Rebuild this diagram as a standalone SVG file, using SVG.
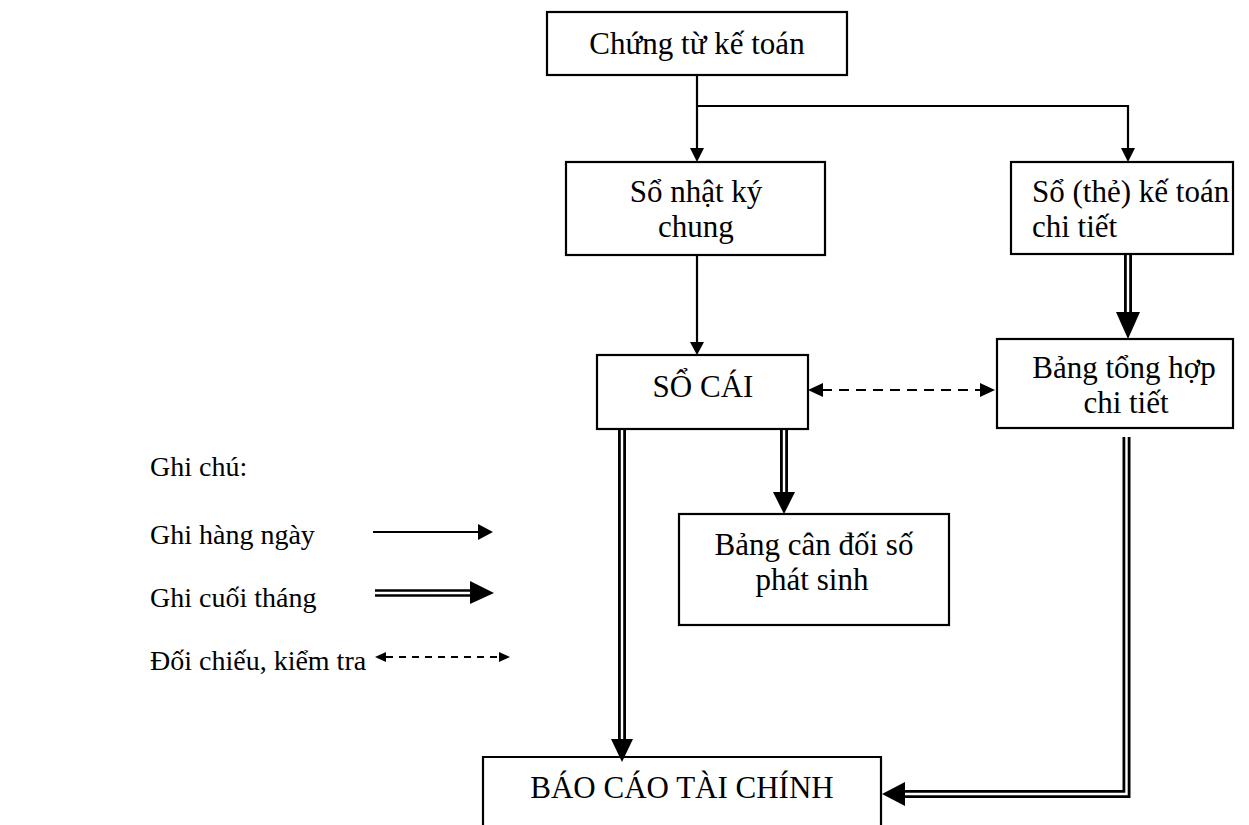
<svg xmlns="http://www.w3.org/2000/svg" width="1249" height="825" viewBox="0 0 1249 825">
<style>
.box{fill:#fff;stroke:#000;stroke-width:2.2}
.t{font-family:"Liberation Serif","Times New Roman",serif;font-size:31px;fill:#000}
.lg{font-size:28px}
.c{text-anchor:middle}
.ln{fill:none;stroke:#000;stroke-width:2.2}
.dbl{fill:none;stroke:#000;stroke-width:8}
.dblw{fill:none;stroke:#fff;stroke-width:2.4}
.dash{fill:none;stroke:#000;stroke-width:2.2;stroke-dasharray:10 7}
.hd{fill:#000}
</style>
<rect width="1249" height="825" fill="#fff"/>
<g id="connectors">
  <path class="ln" d="M697,75 V149"/>
  <polygon class="hd" points="690,148 704,148 697,162"/>
  <path class="ln" d="M696,106 H1128 V149"/>
  <polygon class="hd" points="1121,148 1135,148 1128,162"/>
  <path class="ln" d="M697,255 V343"/>
  <polygon class="hd" points="690,342 704,342 697,355"/>
  <path class="dash" d="M822,390 H982"/>
  <polygon class="hd" points="808,390 823,383 823,397"/>
  <polygon class="hd" points="995,390 980,383 980,397"/>
  <path class="dbl" d="M1128,254 V313"/>
  <path class="dblw" d="M1128,254 V313"/>
  <polygon class="hd" points="1116,312 1140,312 1128,339"/>
  <path class="dbl" d="M784,430 V493"/>
  <path class="dblw" d="M784,430 V493"/>
  <polygon class="hd" points="773,492 795,492 784,514"/>
  <path class="dbl" d="M622,430 V740"/>
  <path class="dblw" d="M622,430 V740"/>
  <polygon class="hd" points="611,739 633,739 622,762"/>
  <path class="dbl" d="M1126.5,437 V794 H904"/>
  <path class="dblw" d="M1126.5,437 V794 H904"/>
  <polygon class="hd" points="905,782 905,806 882,794"/>
</g>
<g id="node-chung-tu">
  <rect class="box" x="547" y="12" width="300" height="63"/>
  <text class="t c" x="697" y="54">Chứng từ kế toán</text>
</g>
<g id="node-nhat-ky">
  <rect class="box" x="566" y="162" width="259" height="93"/>
  <text class="t c" x="696" y="202">Sổ nhật ký</text>
  <text class="t c" x="696" y="237">chung</text>
</g>
<g id="node-chi-tiet">
  <rect class="box" x="1011" y="162" width="222" height="92"/>
  <text class="t" x="1032" y="202">Sổ (thẻ) kế toán</text>
  <text class="t" x="1032" y="237">chi tiết</text>
</g>
<g id="node-so-cai">
  <rect class="box" x="597" y="355" width="211" height="74"/>
  <text class="t c" x="703" y="397">SỔ CÁI</text>
</g>
<g id="node-tong-hop">
  <rect class="box" x="997" y="339" width="236" height="89"/>
  <text class="t c" x="1124" y="378">Bảng tổng hợp</text>
  <text class="t c" x="1126" y="413">chi tiết</text>
</g>
<g id="node-can-doi">
  <rect class="box" x="679" y="514" width="270" height="111"/>
  <text class="t c" x="814" y="555">Bảng cân đối số</text>
  <text class="t c" x="812" y="590">phát sinh</text>
</g>
<g id="node-bctc">
  <path class="ln" d="M483,840 V757 H881 V840"/>
  <text class="t c" x="682" y="798">BÁO CÁO TÀI CHÍNH</text>
</g>
<g id="legend">
  <text class="t lg" x="150" y="476">Ghi chú:</text>
  <text class="t lg" x="150" y="544">Ghi hàng ngày</text>
  <text class="t lg" x="150" y="607">Ghi cuối tháng</text>
  <text class="t lg" x="150" y="670">Đối chiếu, kiểm tra</text>
  <path class="ln" d="M373,532 H479"/>
  <polygon class="hd" points="478,524 478,540 493,532"/>
  <path class="dbl" d="M375,593 H471" style="stroke-width:7.5"/>
  <path class="dblw" d="M374,593 H471"/>
  <polygon class="hd" points="470,581 470,604 494,593"/>
  <path class="dash" d="M386,657 H498" style="stroke-dasharray:7 6"/>
  <polygon class="hd" points="375,657 386,652 386,662"/>
  <polygon class="hd" points="510,657 499,652 499,662"/>
</g>
</svg>
